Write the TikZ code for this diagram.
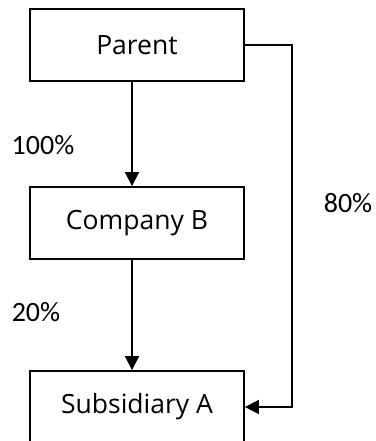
\documentclass[tikz,border=0pt]{standalone}
\usepackage{fontspec}
\setmainfont{Open Sans}
\newfontfamily\labelfont{Carlito}
\usetikzlibrary{arrows.meta}
\tikzset{
  entity/.style={draw, line width=1.8pt, minimum width=214pt, minimum height=72pt, inner sep=0pt, font=\fontsize{26.5}{30}\selectfont},
  arr/.style={line width=1.8pt, -{Triangle[length=14pt,width=14pt]}},
  pct/.style={font=\labelfont\fontsize{28}{32}\selectfont, inner sep=0pt}
}
\begin{document}
\begin{tikzpicture}[x=1pt,y=-1pt]
\useasboundingbox (0,0) rectangle (375,441);
\node[entity] (p) at (137,45) {Parent};
\node[entity] (c) at (137,223) {Company B};
\node[entity] (s) at (137,407) {Subsidiary A};
\coordinate (ax) at (132,0);
\coordinate (rx) at (292,0);
\draw[arr] (p.south -| ax) -- (c.north -| ax);
\draw[arr] (c.south -| ax) -- (s.north -| ax);
\draw[arr] (p.east) -- (p.east -| rx) |- (s.east);
\node[pct] (l100) at (43,145) {100\%};
\node[pct] (l20) at (36,312) {20\%};
\node[pct] (l80) at (348,203) {80\%};
\end{tikzpicture}
\end{document}
